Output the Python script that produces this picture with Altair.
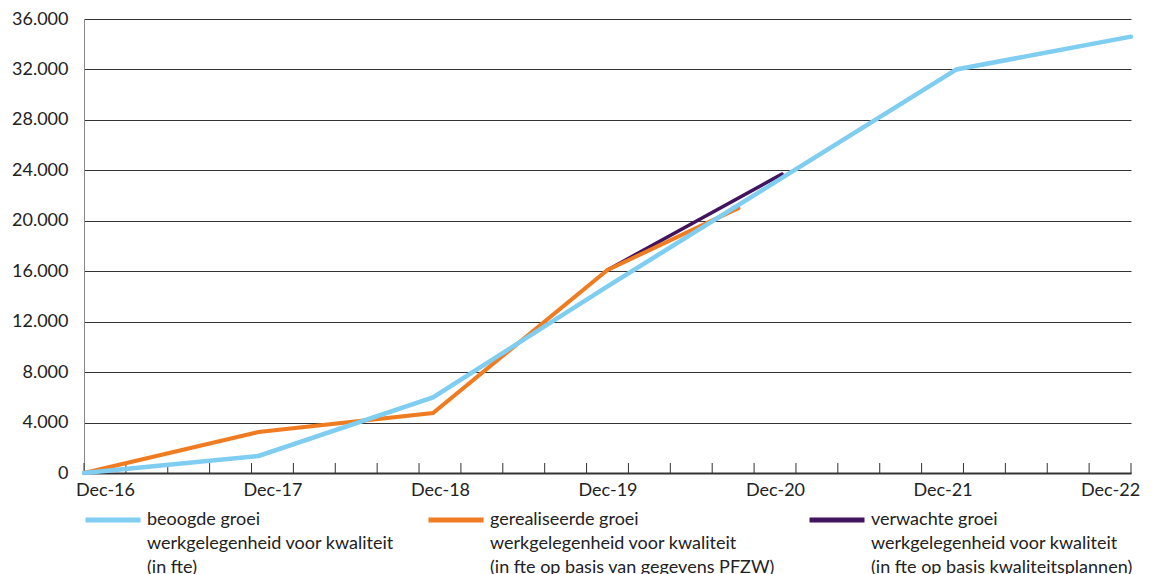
import json
import altair as alt
import pandas as pd

# ---- data ----
series_names = [
    "beoogde groei\nwerkgelegenheid voor kwaliteit\n(in fte)",
    "gerealiseerde groei\nwerkgelegenheid voor kwaliteit\n(in fte op basis van gegevens PFZW)",
    "verwachte groei\nwerkgelegenheid voor kwaliteit\n(in fte op basis kwaliteitsplannen)",
]
series_colors = ["#7fcdf1", "#f07c22", "#42145f"]

beoogd_dates = ["2016-12", "2017-12", "2018-12", "2019-12", "2020-12", "2021-12", "2022-12"]
beoogd_values = [0, 1350, 6000, 14800, 23400, 32000, 34600]

gerealiseerd_dates = ["2016-12", "2017-12", "2018-12", "2019-12", "2020-09"]
gerealiseerd_values = [0, 3250, 4750, 16100, 21000]

verwacht_dates = ["2019-12", "2020-12"]
verwacht_values = [16100, 23700]

x_labels = ["Dec-16", "Dec-17", "Dec-18", "Dec-19", "Dec-20", "Dec-21", "Dec-22"]
y_ticks = list(range(0, 36001, 4000))


def quarter_index(d):
    y, m = d.split("-")
    return (int(y) - 2016) * 4 + (int(m) - 12) / 3


def frame(dates, values, name):
    return pd.DataFrame({"q": [quarter_index(d) for d in dates], "v": values, "series": name})


df_b = frame(beoogd_dates, beoogd_values, series_names[0])
df_g = frame(gerealiseerd_dates, gerealiseerd_values, series_names[1])
df_v = frame(verwacht_dates, verwacht_values, series_names[2])

# axis layout (category-style axis: 25 slots, labels centred in slots)
n_slots = 25
slot = 24 / n_slots
tick_pos = [k * slot for k in range(n_slots + 1)]
label_pos = [(4 * j + 0.5) * slot for j in range(len(x_labels))]
df_ticks = pd.DataFrame({"q": tick_pos})

FONT = "Lato"
W, H = 1047, 454

x_axis = alt.Axis(
    values=label_pos,
    labelExpr=f"{json.dumps(x_labels)}[round((datum.value/{slot} - 0.5)/4)]",
    ticks=False, grid=False, domainColor="#333333", domainWidth=2,
    labelFontSize=18, labelColor="#222222", labelPadding=8, title=None,
)
x_enc = alt.X("q:Q", scale=alt.Scale(domain=[0, 24], nice=False, zero=False), axis=x_axis)
y_enc = alt.Y(
    "v:Q",
    scale=alt.Scale(domain=[0, 36000], nice=False),
    axis=alt.Axis(
        values=y_ticks,
        labelExpr="replace(format(datum.value, ','), ',', '.')",
        ticks=False, grid=True, gridColor="#333333", gridWidth=1,
        domainColor="#888888", domainWidth=1,
        labelFontSize=18, labelColor="#222222", labelPadding=16, title=None,
    ),
)
color_enc = alt.Color(
    "series:N",
    scale=alt.Scale(domain=series_names, range=series_colors),
    legend=alt.Legend(
        orient="none", legendX=-1, legendY=471, direction="horizontal", columns=3,
        symbolType="stroke", symbolSize=3025, symbolStrokeWidth=5,
        labelExpr="split(datum.label, '\\n')", labelFontSize=18, labelColor="#222222",
        labelLimit=500, labelOffset=4, columnPadding=24, title=None,
    ),
)

line_v = alt.Chart(df_v).mark_line(strokeWidth=3.5, strokeCap="round").encode(x=x_enc, y=y_enc, color=color_enc)
line_g = alt.Chart(df_g).mark_line(strokeWidth=4, strokeCap="round").encode(x=x_enc, y=y_enc, color=color_enc)
line_b = alt.Chart(df_b).mark_line(strokeWidth=4.5, strokeCap="round").encode(x=x_enc, y=y_enc, color=color_enc)
ticks = alt.Chart(df_ticks).mark_rule(color="#333333", strokeWidth=1).encode(
    x=x_enc, y=alt.value(H), y2=alt.value(H - 10)
)

chart = (
    alt.layer(ticks, line_v, line_g, line_b)
    .properties(
        width=W, height=H,
        autosize=alt.AutoSizeParams(type="none"),
        padding={"left": 76, "top": 11, "right": 12, "bottom": 104},
    )
    .configure(font=FONT, style={"guide-label": {"lineHeight": 24}})
    .configure_view(stroke=None)
)

chart.save("out.html", embed_options={"renderer": "svg", "actions": False})
